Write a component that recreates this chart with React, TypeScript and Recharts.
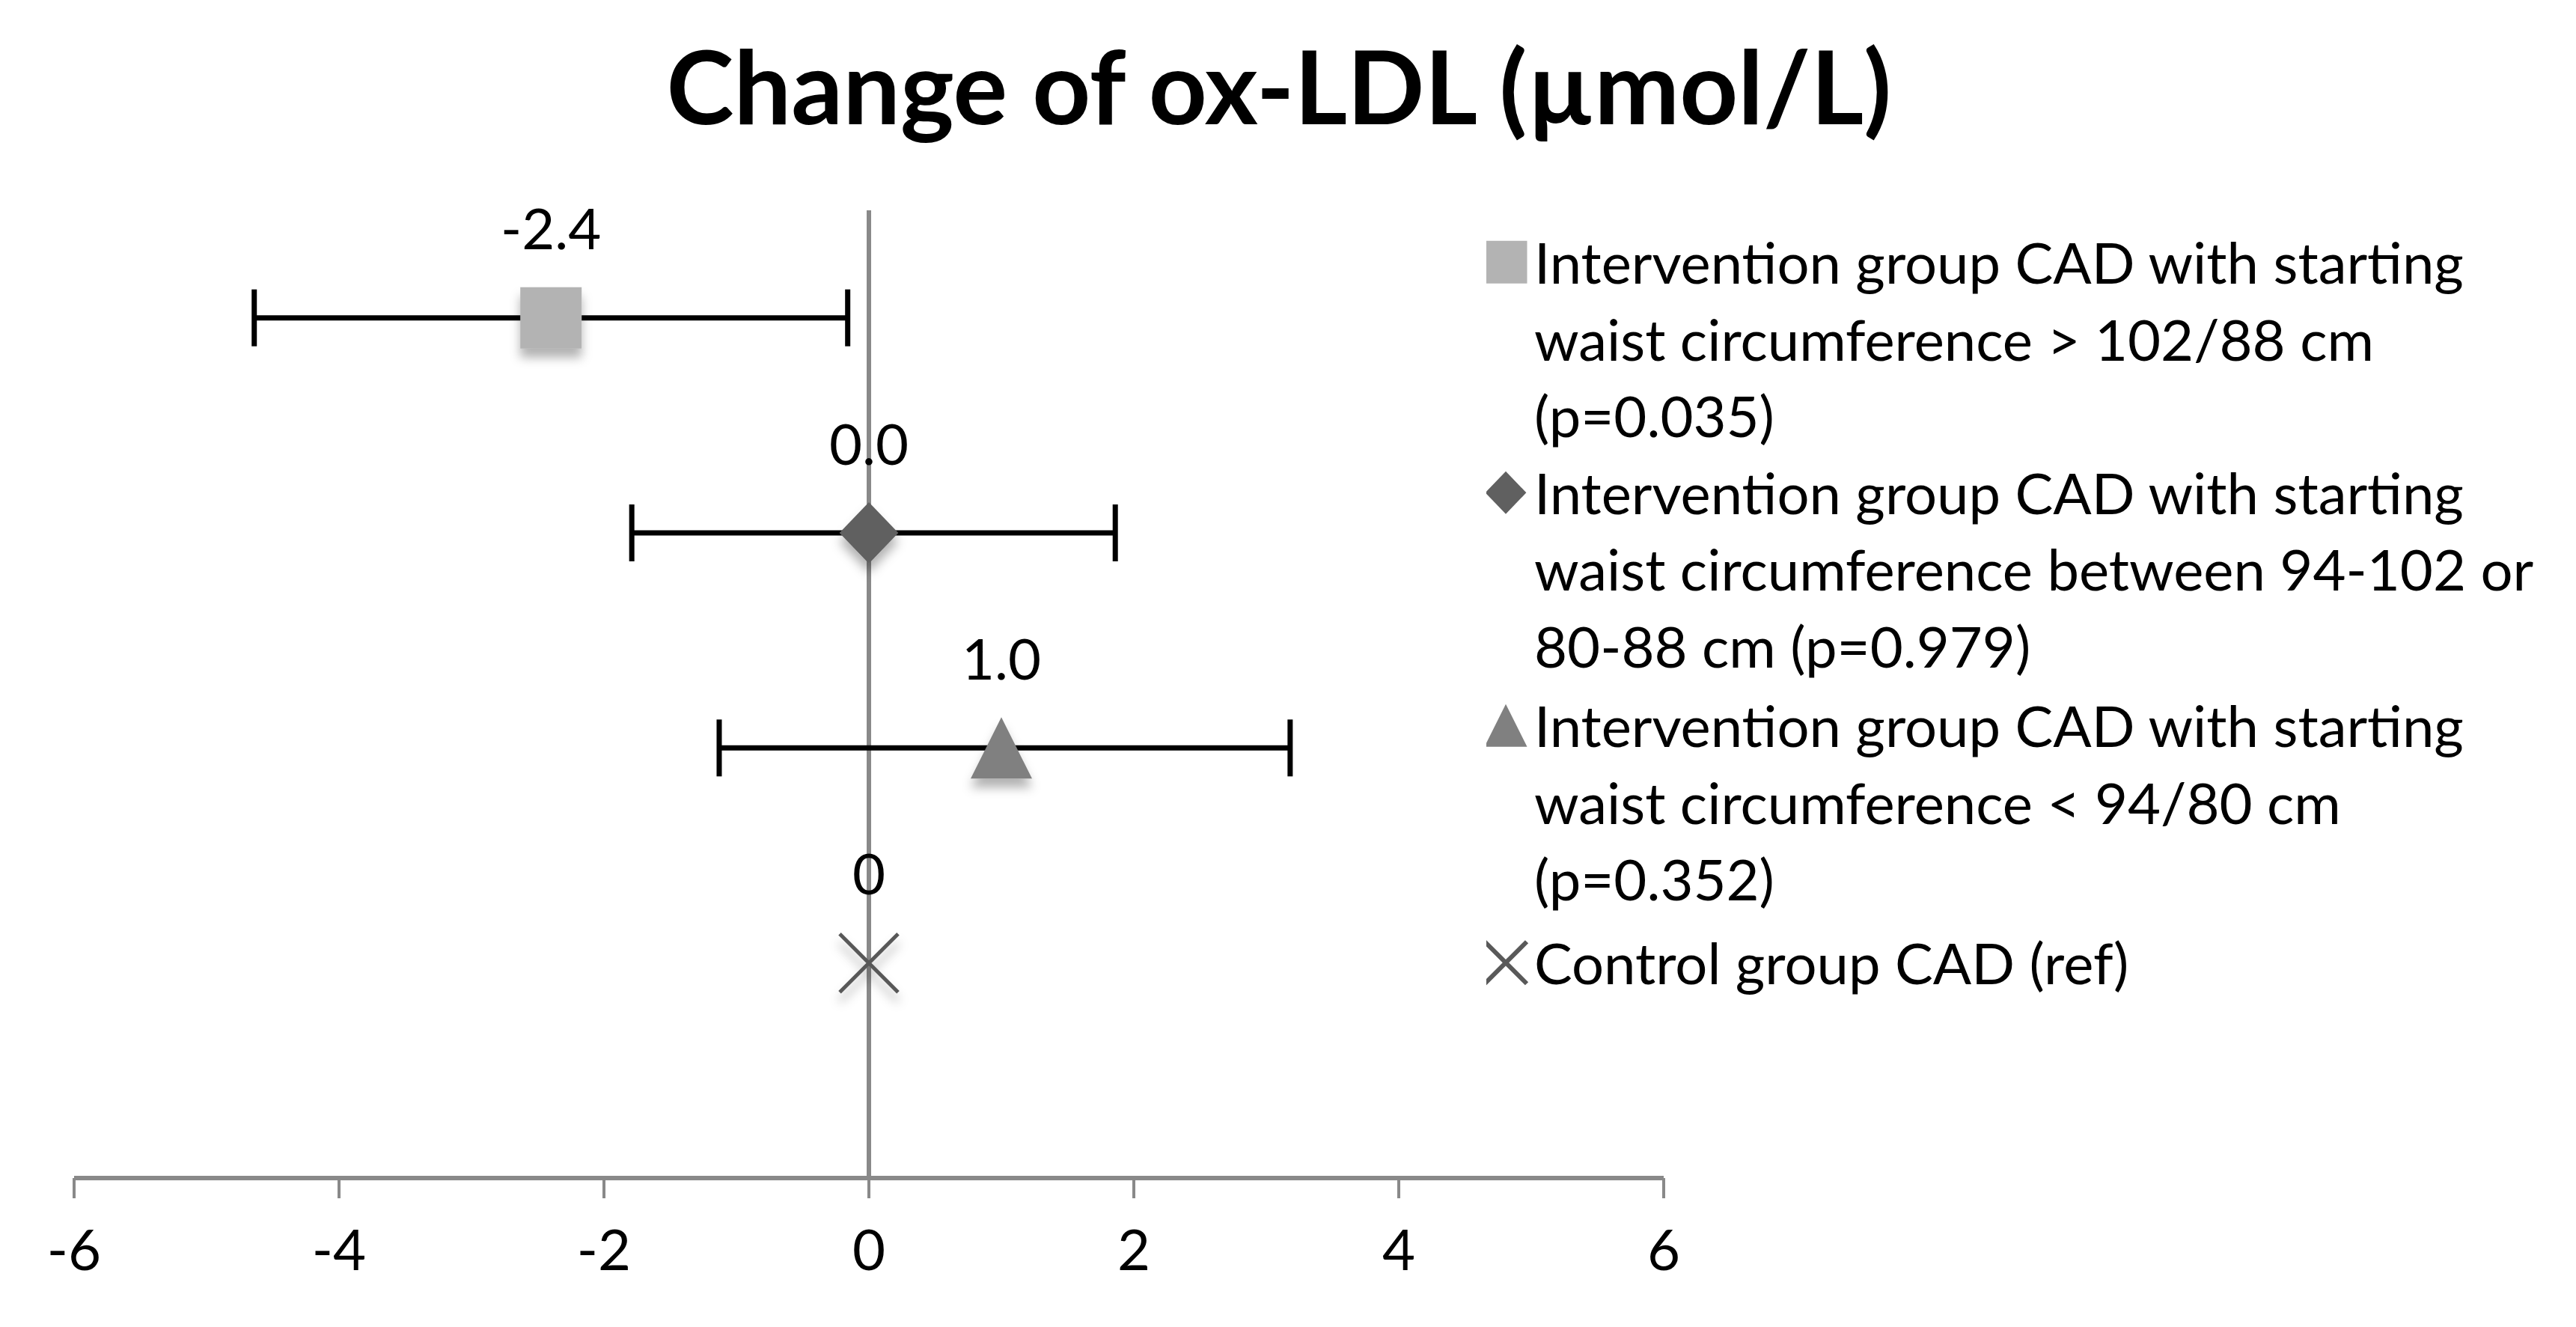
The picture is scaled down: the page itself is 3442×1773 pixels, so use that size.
import React from "react";
import { ScatterChart, Scatter, XAxis, YAxis, ErrorBar, LabelList, ReferenceLine, Legend } from "recharts";

// mean change of ox-LDL per group, with 95% CI ends
const GROUP_KEYS = ["waistHigh", "waistMid", "waistLow", "control"];
const CHANGE = [-2.4, 0.0, 1.0, 0];
const CI_LOW = [-4.64, -1.79, -1.13, 0];
const CI_HIGH = [-0.16, 1.86, 3.18, 0];
const ROW = [4, 3, 2, 1];
const VALUE_LABELS = ["-2.4", "0.0", "1.0", "0"];
const LEGEND_LINES = [
  ["Intervention group CAD with starting", "waist circumference > 102/88 cm", "(p=0.035)"],
  ["Intervention group CAD with starting", "waist circumference between 94-102 or", "80-88 cm (p=0.979)"],
  ["Intervention group CAD with starting", "waist circumference < 94/80 cm", "(p=0.352)"],
  ["Control group CAD (ref)"],
];
const X_TICKS = [-6, -4, -2, 0, 2, 4, 6];

const FONT = "Lato, 'Open Sans', sans-serif";
const AXIS_GREY = "#898989";
const COLORS = ["#b3b3b3", "#606060", "#808080", "#595959"];
const MARK = 82;
const LINE_H = 102.5;
const ENTRY_GAP = [0, 4, 9, 0];

function markerPath(kind: number, cx: number, cy: number, s: number) {
  const h = s / 2;
  if (kind === 0) return `M${cx - h},${cy - h}H${cx + h}V${cy + h}H${cx - h}Z`;
  if (kind === 1) return `M${cx},${cy - h}L${cx + h * 0.96},${cy}L${cx},${cy + h}L${cx - h * 0.96},${cy}Z`;
  if (kind === 2) return `M${cx},${cy - h}L${cx + h},${cy + h}L${cx - h},${cy + h}Z`;
  return `M${cx - h},${cy - h}L${cx + h},${cy + h}M${cx + h},${cy - h}L${cx - h},${cy + h}`;
}

function Marker({ kind, cx, cy, size, shadow }: any) {
  const d = markerPath(kind, cx, cy, size);
  if (kind === 3) {
    return <path d={d} stroke={COLORS[3]} strokeWidth={size > 60 ? 5 : 6} fill="none" filter={shadow ? "url(#mkShadow)" : undefined} />;
  }
  return <path d={d} fill={COLORS[kind]} filter={shadow ? "url(#mkShadow)" : undefined} />;
}

const shapeFor = (kind: number) => (props: any) => (
  <Marker kind={kind} cx={props.cx} cy={props.cy} size={kind === 3 ? 78 : MARK} shadow />
);

const renderValueLabel = (props: any) => {
  const vb = props.viewBox && props.viewBox.width !== undefined ? props.viewBox : props;
  const cx = vb.x + (vb.width || 0) / 2;
  const cy = vb.y + (vb.height || 0) / 2;
  return (
    <text x={cx} y={cy - 121} textAnchor="middle" dominantBaseline="central" fontSize={76} fontFamily={FONT} fill="#000">
      {props.value}
    </text>
  );
};

const LegendBox = () => (
  <div style={{ fontFamily: FONT, fontSize: 76, lineHeight: `${LINE_H}px`, color: "#000" }}>
    {LEGEND_LINES.map((lines, i) => (
      <div key={i} style={{ display: "flex", alignItems: "flex-start", marginBottom: ENTRY_GAP[i] }}>
        <svg width={64} height={LINE_H} style={{ flex: "none" }}>
          <Marker kind={i} cx={26} cy={LINE_H / 2} size={i === 3 ? 56 : 57} shadow={false} />
        </svg>
        <div style={{ whiteSpace: "nowrap" }}>
          {lines.map((l, j) => (
            <div key={j}>{l}</div>
          ))}
        </div>
      </div>
    ))}
  </div>
);

export default function App() {
  const series = GROUP_KEYS.map((key, i) => ({
    key,
    data: [
      {
        x: CHANGE[i],
        y: ROW[i],
        err: [CHANGE[i] - CI_LOW[i], CI_HIGH[i] - CHANGE[i]],
        label: VALUE_LABELS[i],
      },
    ],
  }));

  return (
    <div style={{ position: "absolute", left: 0, top: 0, width: 3442, height: 1773, background: "#fff" }}>
      <svg width={0} height={0} style={{ position: "absolute" }}>
        <defs>
          <filter id="mkShadow" x="-60%" y="-60%" width="220%" height="220%">
            <feDropShadow dx="0" dy="12" stdDeviation="7" floodColor="#000" floodOpacity="0.3" />
          </filter>
        </defs>
      </svg>
      <div
        style={{
          position: "absolute", left: 0, top: 24, width: 3418, textAlign: "center",
          fontFamily: FONT, fontWeight: 700, fontSize: 136, lineHeight: "180px", color: "#000",
        }}
      >
        Change of ox-LDL (µmol/L)
      </div>
      <ScatterChart width={3442} height={1773} margin={{ top: 281, left: 99, right: 1219, bottom: 99 }}>
        <XAxis
          type="number"
          dataKey="x"
          domain={[-6, 6]}
          ticks={X_TICKS}
          allowDataOverflow
          height={100}
          axisLine={{ stroke: AXIS_GREY, strokeWidth: 6 }}
          tickLine={{ stroke: AXIS_GREY, strokeWidth: 4 }}
          tickSize={27}
          tickMargin={42}
          tick={{ fill: "#000", fontSize: 76, fontFamily: FONT }}
        />
        <YAxis type="number" dataKey="y" domain={[0, 4.5]} hide />
        <ReferenceLine x={0} stroke={AXIS_GREY} strokeWidth={6} />
        <Legend
          layout="vertical"
          align="center"
          verticalAlign="middle"
          wrapperStyle={{ left: 1986, top: 299, width: 1450 }}
          content={() => <LegendBox />}
        />
        {series.map((s, i) => (
          <Scatter key={s.key} name={s.key} data={s.data} shape={shapeFor(i)} isAnimationActive={false}>
            {i < 3 && (
              <ErrorBar dataKey="err" direction="x" width={38} stroke="#000" strokeWidth={7} />
            )}
            <LabelList dataKey="label" content={renderValueLabel} />
          </Scatter>
        ))}
      </ScatterChart>
    </div>
  );
}
